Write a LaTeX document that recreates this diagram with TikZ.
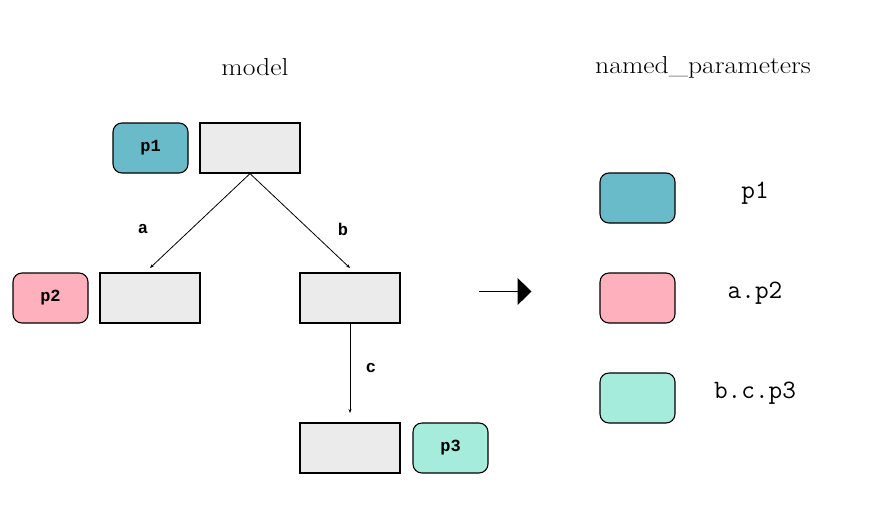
\documentclass[tikz,border=0pt]{standalone}
\usepackage{fontspec}
\newfontfamily\boldmono{Liberation Mono}
\usetikzlibrary{arrows.meta}
\definecolor{tealp}{HTML}{69BBC9}
\definecolor{pinkp}{HTML}{FFB0BD}
\definecolor{mintp}{HTML}{A6ECDD}
\definecolor{grayb}{HTML}{EBEBEB}
\tikzset{
  modbox/.style={draw, line width=1.2pt, fill=grayb, minimum width=100pt, minimum height=50pt, inner sep=0pt},
  parbox/.style={draw, line width=1.1pt, rounded corners=9pt, minimum width=75pt, minimum height=50pt, inner sep=0pt, font=\fontsize{17}{17}\selectfont\boldmono\bfseries},
  edgelab/.style={font=\fontsize{17}{17}\selectfont\boldmono\bfseries, inner sep=0pt},
  nametxt/.style={font=\fontsize{26.5}{26.5}\selectfont\ttfamily, inner sep=0pt},
  titletxt/.style={font=\fontsize{24.5}{24.5}\selectfont, inner sep=0pt}
}
\tikzset{conn/.style={line width=0.8pt, -{Stealth[length=4pt,width=3pt]}}}
\begin{document}
\begin{tikzpicture}[x=1pt,y=-1pt]
\useasboundingbox (0,0) rectangle (880,512);
\node[titletxt] (tmodel) at (255,67) {\scalebox{1.13}[1]{model}};
\node[titletxt] (tnamed) at (703,67) {\scalebox{1.13}[1]{named\_parameters}};
% tree
\node[modbox] (root) at (250,148) {};
\node[parbox, fill=tealp] (p1) at (150.5,148) {p1};
\node[modbox] (na) at (150,298) {};
\node[parbox, fill=pinkp] (p2) at (50.5,298) {p2};
\node[modbox] (nb) at (350,298) {};
\node[modbox] (nc) at (350,448) {};
\node[parbox, fill=mintp] (p3) at (450.5,448) {p3};
\coordinate (aend) at (150,268);
\coordinate (bend) at (350,268);
\coordinate (cend) at (350,413);
\draw[conn] (root.south) -- (aend);
\draw[conn] (root.south) -- (bend);
\draw[conn] (nb.south) -- (cend);
\node[edgelab] (la) at (143,229) {a};
\node[edgelab] (lb) at (343,229) {b};
\node[edgelab] (lc) at (371,368) {c};
% big arrow
\coordinate (bs) at (479,291.5);
\coordinate (be) at (531.5,291.5);
\draw[line width=1.1pt, -{Triangle[length=14pt,width=27pt]}] (bs) -- (be);
% right
\node[parbox, fill=tealp] (r1) at (637.5,198) {};
\node[parbox, fill=pinkp] (r2) at (637.5,298) {};
\node[parbox, fill=mintp] (r3) at (637.5,398) {};
\node[nametxt] (n1) at (755,193) {p1};
\node[nametxt] (n2) at (755,293) {a.p2};
\node[nametxt] (n3) at (755,393) {b.c.p3};
\end{tikzpicture}
\end{document}
